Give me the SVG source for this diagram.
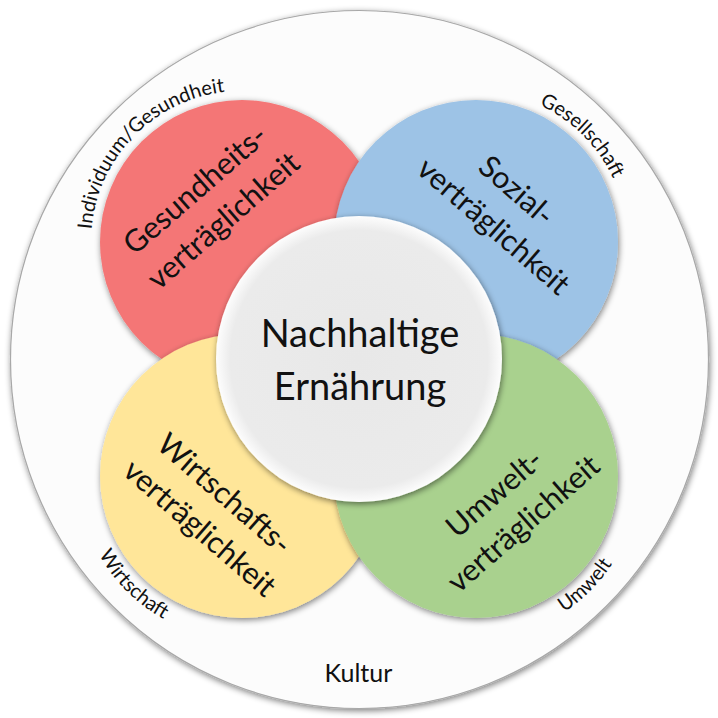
<svg xmlns="http://www.w3.org/2000/svg" xmlns:xlink="http://www.w3.org/1999/xlink" width="718" height="718" viewBox="0 0 718 718">
<defs>
<style>
.lbl{font-family:Lato,"Open Sans","DejaVu Sans",sans-serif;fill:#111111;}
.big{font-size:30.5px;}
.small{font-size:20px;}
.ctr{font-size:38px;}
</style>
<filter id="sh" x="-15%" y="-15%" width="130%" height="130%">
<feGaussianBlur in="SourceAlpha" stdDeviation="3"/>
<feOffset dx="1" dy="1.5" result="o"/>
<feComponentTransfer><feFuncA type="linear" slope="0.5"/></feComponentTransfer>
<feMerge><feMergeNode/><feMergeNode in="SourceGraphic"/></feMerge>
</filter>
<radialGradient id="cg" cx="50%" cy="50%" r="50%">
<stop offset="0" stop-color="#e8e8e8"/>
<stop offset="0.9" stop-color="#ebebeb"/>
<stop offset="1" stop-color="#fdfdfd"/>
</radialGradient>
<path id="pRed" d="M135.2,348.8 A151,151 0 0 1 348.8,135.2"/>
<path id="pBlue" d="M369.2,135.2 A151,151 0 0 1 582.8,348.8"/>
<path id="pYel" d="M126.7,360.7 A163,163 0 0 0 357.3,591.3"/>
<path id="pGrn" d="M361.4,590.6 A162,162 0 0 0 590.6,361.4"/>
</defs>
<rect width="718" height="718" fill="#ffffff"/>
<g id="outer">
<circle cx="359.5" cy="359.5" r="349" fill="#fcfcfc" stroke="#a8a8a8" stroke-width="1.2" filter="url(#sh)"/>
<text class="lbl small" x="358.5" y="682" text-anchor="middle" style="font-size:25px">Kultur</text>
</g>
<g id="connectors"></g>
<g id="gesundheit">
<circle cx="242" cy="242" r="142" fill="#f47676" filter="url(#sh)"/>
<text class="lbl small"><textPath xlink:href="#pRed" href="#pRed" startOffset="49.5%" text-anchor="middle">Individuum/Gesundheit</textPath></text>
<g transform="translate(208.5,205) rotate(-41)">
<text class="lbl big" x="0" y="-10" text-anchor="middle">Gesundheits-</text>
<text class="lbl big" x="1" y="32" text-anchor="middle">verträglichkeit</text>
</g>
</g>
<g id="sozial">
<circle cx="476" cy="242" r="142" fill="#9dc3e6" filter="url(#sh)"/>
<text class="lbl small"><textPath xlink:href="#pBlue" href="#pBlue" startOffset="50%" text-anchor="middle">Gesellschaft</textPath></text>
<g transform="translate(505.5,208) rotate(41)">
<text class="lbl big" x="-3" y="-10" text-anchor="middle">Sozial-</text>
<text class="lbl big" x="3" y="32" text-anchor="middle">verträglichkeit</text>
</g>
</g>
<g id="wirtschaft">
<circle cx="242" cy="476" r="142" fill="#ffe699" filter="url(#sh)"/>
<text class="lbl small"><textPath xlink:href="#pYel" href="#pYel" startOffset="50%" text-anchor="middle">Wirtschaft</textPath></text>
<g transform="translate(212.5,510.5) rotate(41)">
<text class="lbl big" x="-2" y="-10" text-anchor="middle">Wirtschafts-</text>
<text class="lbl big" x="2" y="32" text-anchor="middle">verträglichkeit</text>
</g>
</g>
<g id="umwelt">
<circle cx="476" cy="476" r="142" fill="#a9d18e" filter="url(#sh)"/>
<text class="lbl small"><textPath xlink:href="#pGrn" href="#pGrn" startOffset="50%" text-anchor="middle">Umwelt</textPath></text>
<g transform="translate(508.5,508) rotate(-41)">
<text class="lbl big" x="-1" y="-10" text-anchor="middle">Umwelt-</text>
<text class="lbl big" x="1" y="32" text-anchor="middle">verträglichkeit</text>
</g>
</g>
<g id="zentrum">
<circle cx="359" cy="359" r="143" fill="url(#cg)" filter="url(#sh)"/>
<text class="lbl ctr" x="360" y="347" text-anchor="middle">Nachhaltige</text>
<text class="lbl ctr" x="360" y="400" text-anchor="middle">Ernährung</text>
</g>
</svg>
